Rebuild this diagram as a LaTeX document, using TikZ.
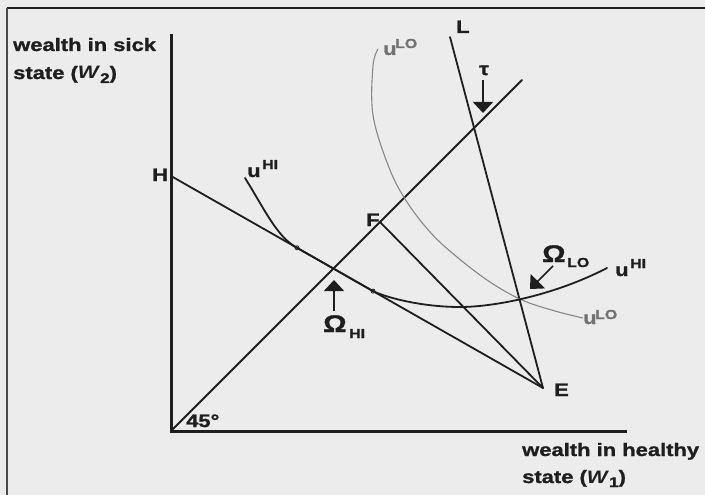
\documentclass[tikz,border=0pt]{standalone}
\usepackage{fontspec}
\setmainfont{Liberation Sans}[FakeStretch=1.22, BoldFeatures={FakeBold=1.3}]
\usetikzlibrary{arrows.meta,calc}
\definecolor{bgc}{RGB}{236,236,236}
\definecolor{ink}{RGB}{30,30,30}
\definecolor{lightink}{RGB}{135,135,135}
\begin{document}
\begin{tikzpicture}[x=1pt,y=-1pt,
  lab/.style={inner sep=0pt, anchor=base west, text=ink, font=\fontsize{18}{18}\selectfont\bfseries},
  suplab/.style={inner sep=0pt, anchor=base west, text=ink, font=\fontsize{13}{13}\selectfont\bfseries},
  biglab/.style={inner sep=0pt, anchor=base west, text=ink, font=\fontsize{24}{24}\selectfont\bfseries},
  ln/.style={ink, line width=1.8pt, line cap=round},
  axis/.style={ink, line width=3pt, line join=miter},
  lo/.style={lightink, line width=1.1pt},
  arr/.style={ink, line width=1.6pt, -{Triangle[width=20pt,length=11pt]}},
  dotmark/.style={ink, line width=0.8pt}]
\fill[bgc] (0,0) rectangle (705,495);
\useasboundingbox (0,0) rectangle (705,495);
% frame
\draw[ink, line width=2.6pt] (7,8) -- (705,8);
\draw[ink!80, line width=1.2pt] (7,8) -- (7,495);
% points
\coordinate (ytop) at (171,34);
\coordinate (O) at (171,431);
\coordinate (xend) at (627,431);
\coordinate (H) at (171,176);
\coordinate (E) at (543,388);
\coordinate (F) at (380,222);
\coordinate (L) at (450,37);
\coordinate (D) at (522,80);
\coordinate (T1) at ($(H)!0.3387!(E)$);
\coordinate (T2) at ($(H)!0.543!(E)$);
% axes
\draw[axis] (ytop) -- (O) -- (xend);
% lines
\draw[ln] (O) -- (D);
\draw[ln] (H) -- (E);
\draw[ln] (F) -- (E);
\draw[ln] (L) -- (E);
% u^LO curve
\draw[lo] plot[smooth, tension=0.6] coordinates {(378,49) (373,66) (373,115) (388,165) (405,199) (430,232) (457,257) (490,282) (522,300) (555,311) (583,318)};
% u^HI curve
\draw[ln] (245,178) .. controls (265,210) and (277,237) .. (T1) -- (T2)
          .. controls (390,299) and (425,307) .. (460,307)
          .. controls (495,307) and (555,295) .. (607,268);
\draw[dotmark] (T1) circle (2pt);
\draw[dotmark] (T2) circle (2pt);
% arrows
\coordinate (tauS) at (483,80);
\coordinate (tauT) at (483,113);
\coordinate (ohS) at (334,311);
\coordinate (ohT) at (334,280);
\coordinate (olS) at (553,266);
\coordinate (olT) at (530,289);
\draw[arr] (tauS) -- (tauT);
\draw[arr] (ohS) -- (ohT);
\draw[arr] (olS) -- (olT);
% axis labels
\node[lab] (ylab1) at (13,51) {wealth in sick};
\node[lab] (ylab2) at (13,79) {state (\textit{W}\raisebox{-4pt}{\fontsize{14}{14}\selectfont 2})};
\node[lab] (xlab1) at (522,456) {wealth in healthy};
\node[lab] (xlab2) at (522,483) {state (\textit{W}\raisebox{-4pt}{\fontsize{14}{14}\selectfont 1})};
% point labels
\node[lab] (Hl) at (152,181) {H};
\node[lab] (Fl) at (366,226) {F};
\node[lab] (Ll) at (456,33) {L};
\node[lab] (El) at (554,396) {E};
\node[lab, anchor=base] (taul) at (484,75) {τ};
\node[lab] (ang) at (186,427) {45°};
% curve labels
\node[lab] (uhi1) at (247,177) {u};
\node[suplab] (uhi1s) at (262,169) {HI};
\node[lab] (uhi2) at (615,276) {u};
\node[suplab] (uhi2s) at (630,268) {HI};
\node[lab, text=lightink!80!ink] (ulo1) at (383,55) {u};
\node[suplab, text=lightink!80!ink] (ulo1s) at (395,48) {LO};
\node[lab, text=lightink!80!ink] (ulo2) at (583,324) {u};
\node[suplab, text=lightink!80!ink] (ulo2s) at (595,319) {LO};
% Omega labels
\node[biglab] (OmH) at (323,332) {Ω};
\node[suplab] (OmHs) at (349,338) {HI};
\node[biglab] (OmL) at (542,262) {Ω};
\node[suplab] (OmLs) at (567,267) {LO};
\end{tikzpicture}
\end{document}
